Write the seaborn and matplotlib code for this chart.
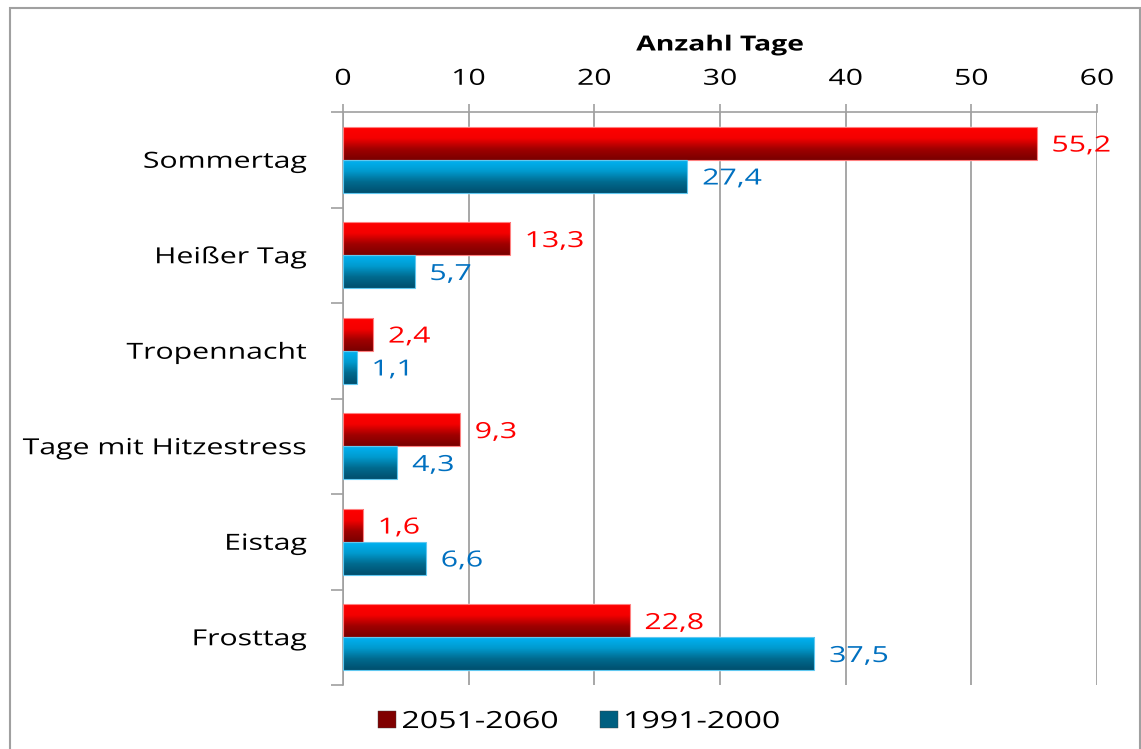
import numpy as np
import pandas as pd
import seaborn as sns
import matplotlib.pyplot as plt
from matplotlib.colors import LinearSegmentedColormap
from matplotlib.patches import Rectangle
from matplotlib.patheffects import AbstractPathEffect
from matplotlib.transforms import Affine2D

# data
categories = ['Sommertag', 'Heißer Tag', 'Tropennacht', 'Tage mit Hitzestress', 'Eistag', 'Frosttag']
werte_2051 = [55.2, 13.3, 2.4, 9.3, 1.6, 22.8]
werte_1991 = [27.4, 5.7, 1.1, 4.3, 6.6, 37.5]
series = ['2051-2060', '1991-2000']
x_ticks = [0, 10, 20, 30, 40, 50, 60]

df = pd.DataFrame({
    'Kategorie': categories * 2,
    'Zeitraum': [series[0]] * len(categories) + [series[1]] * len(categories),
    'Tage': werte_2051 + werte_1991,
})


# the original text is horizontally stretched, widen glyphs around an anchor
class Stretch(AbstractPathEffect):
    def __init__(self, anchor='left', sx=1.36):
        super().__init__()
        self.anchor = anchor
        self.sx = sx

    def draw_path(self, renderer, gc, tpath, affine, rgbFace=None):
        ext = tpath.get_extents(affine)
        ref = {'left': ext.x0, 'right': ext.x1, 'center': (ext.x0 + ext.x1) / 2}[self.anchor]
        tr = affine + Affine2D().translate(-ref, 0).scale(self.sx, 1).translate(ref, 0)
        renderer.draw_path(gc, tpath, tr, rgbFace)


sns.set_style('white')
plt.rcParams['font.family'] = ['Open Sans', 'DejaVu Sans']
plt.rcParams['text.color'] = 'black'
plt.rcParams['xtick.labelcolor'] = 'black'
plt.rcParams['ytick.labelcolor'] = 'black'

fig = plt.figure(figsize=(11.41, 7.49), dpi=100)
ax = fig.add_axes([343 / 1141, 1 - 685 / 749, (1097 - 343) / 1141, (685 - 112) / 749])

legend_cols = {series[0]: '#800000', series[1]: '#005F80'}
sns.barplot(data=df, x='Tage', y='Kategorie', hue='Zeitraum', hue_order=series,
            palette=legend_cols, orient='h', width=0.69, ax=ax, legend=False,
            saturation=1, errorbar=None)

grads = {
    series[0]: LinearSegmentedColormap.from_list('r', ['#FF0000', '#F40000', '#A00000', '#7A0000']),
    series[1]: LinearSegmentedColormap.from_list('b', ['#00B2F2', '#009ACE', '#006A8E', '#004F6E']),
}
edge = {series[0]: '#FF8080', series[1]: '#60C8F0'}
text_col = {series[0]: '#FF0000', series[1]: '#0070C0'}

grad = np.linspace(0, 1, 64).reshape(-1, 1)
for cont, s in zip(ax.containers, series):
    for bar, v in zip(cont, cont.datavalues):
        x0, y0 = bar.get_x(), bar.get_y()
        w, h = bar.get_width(), bar.get_height()
        im = ax.imshow(grad, cmap=grads[s], aspect='auto', origin='upper',
                       extent=(x0, x0 + w, y0 + h, y0), zorder=3)
        im.set_clip_path(bar)
        ax.add_patch(Rectangle((x0, y0), w, h, fill=False, edgecolor=edge[s], lw=0.8, zorder=4))
        t = ax.annotate(f'{v:.1f}'.replace('.', ','), (x0 + w, y0 + h / 2), xytext=(11, -2),
                        textcoords='offset points', va='center', ha='left',
                        color=text_col[s], fontsize=16)
        t.set_path_effects([Stretch('left')])

ax.set_xlim(0, 60)
ax.set_ylim(len(categories) - 0.5, -0.5)
ax.set_xticks(x_ticks)
ax.xaxis.tick_top()
ax.tick_params(axis='x', top=True, bottom=False, direction='out', length=6,
               color='#A0A0A0', width=1.2, labelsize=16, pad=10)
ax.tick_params(axis='y', which='major', left=False, length=0, labelsize=16, pad=26)
ax.set_yticks(np.arange(-0.5, len(categories), 1), minor=True)
ax.tick_params(axis='y', which='minor', left=True, direction='out', length=9,
               color='#A0A0A0', width=1.2)
ax.grid(axis='x', color='#A0A0A0', lw=1.3)
ax.set_axisbelow(True)
ax.set_xlabel('')
ax.set_ylabel('')
for side in ['right', 'bottom']:
    ax.spines[side].set_visible(False)
for side in ['top', 'left']:
    ax.spines[side].set_color('#A0A0A0')
    ax.spines[side].set_linewidth(1.2)

for lab in ax.get_xticklabels():
    lab.set_path_effects([Stretch('center')])
for lab in ax.get_yticklabels():
    lab.set_path_effects([Stretch('right')])

title = fig.text(720 / 1141, 1 - 45 / 749, 'Anzahl Tage', ha='center', va='center',
                 fontsize=15, fontweight='bold')
title.set_path_effects([Stretch('center')])

handles = [Rectangle((0, 0), 1, 1, facecolor=legend_cols[s], edgecolor='#404040', lw=0.3) for s in series]
leg = fig.legend(handles, series, loc='center left', bbox_to_anchor=(378 / 1141, 1 - 722 / 749),
                 ncol=2, frameon=False, fontsize=17, handlelength=0.76, handleheight=0.76,
                 handletextpad=0.25, columnspacing=3.5, borderpad=0, borderaxespad=0)
for t in leg.get_texts():
    t.set_path_effects([Stretch('left')])

fig.add_artist(Rectangle((10 / 1141, -0.05), 1130 / 1141, 1.05 - 8 / 749,
                         transform=fig.transFigure, fill=False, edgecolor='#A0A0A0', lw=1.5))

fig.savefig('out.png', dpi=100)
